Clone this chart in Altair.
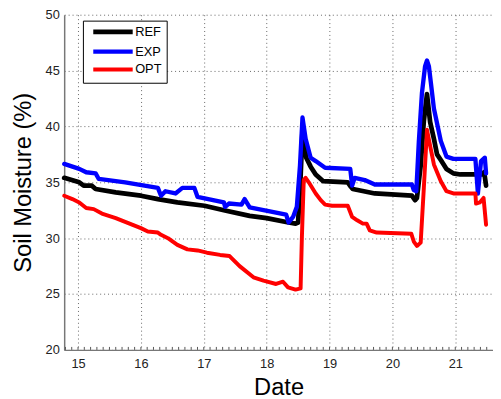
import altair as alt
import pandas as pd

series_names = ["REF", "EXP", "OPT"]
series_colors = ["#000000", "#0000ff", "#ff0000"]
series_widths = [4.8, 4, 4]

ref_x = [14.78, 15.02, 15.09, 15.22, 15.28, 15.60, 16.00, 16.27, 16.58, 17.01, 17.32, 17.73, 18.00,
         18.35, 18.46, 18.50, 18.54, 18.57, 18.60, 18.63, 18.70, 18.78, 18.90, 19.29, 19.34, 19.37,
         19.72, 20.31, 20.36, 20.39, 20.45, 20.50, 20.55, 20.60, 20.66, 20.71, 20.77, 20.86, 20.97,
         21.08, 21.44, 21.46, 21.49]
ref_y = [35.4, 35.0, 34.7, 34.7, 34.4, 34.1, 33.8, 33.5, 33.2, 32.9, 32.5, 32.0, 31.8,
         31.4, 31.3, 31.4, 35.5, 39.6, 38.5, 37.2, 36.4, 35.7, 35.1, 35.0, 34.6, 34.4,
         34.0, 33.8, 33.4, 33.6, 36.5, 40.5, 42.9, 40.4, 38.9, 37.5, 37.0, 36.2, 35.8,
         35.7, 35.7, 35.9, 34.7]

exp_x = [14.78, 15.02, 15.13, 15.28, 15.33, 15.75, 16.27, 16.32, 16.39, 16.55, 16.66, 16.85, 16.90,
         17.32, 17.34, 17.40, 17.60, 17.65, 17.73, 18.31, 18.35, 18.42, 18.48, 18.53, 18.57, 18.62,
         18.70, 18.78, 18.93, 19.33, 19.36, 19.40, 19.56, 19.72, 20.31, 20.34, 20.38, 20.42, 20.47,
         20.52, 20.55, 20.58, 20.61, 20.66, 20.77, 20.86, 20.97, 21.32, 21.36, 21.41, 21.47, 21.49]
exp_y = [36.65, 36.2, 35.9, 35.8, 35.3, 35.0, 34.5, 33.8, 34.2, 34.0, 34.5, 34.5, 33.7,
         33.2, 32.8, 33.1, 33.0, 33.5, 32.75, 32.1, 31.4, 31.9, 32.8, 36.5, 40.8, 38.9,
         37.2, 36.9, 36.3, 36.2, 34.7, 35.4, 35.2, 34.8, 34.8, 34.3, 34.2, 38.6, 43.0,
         45.4, 45.9, 45.4, 44.0, 41.6, 38.7, 37.3, 37.1, 37.1, 34.0, 36.9, 37.2, 35.8]

opt_x = [14.78, 14.91, 15.02, 15.13, 15.25, 15.38, 15.60, 15.80, 16.00, 16.11, 16.27, 16.32, 16.43,
         16.58, 16.74, 16.90, 17.05, 17.26, 17.41, 17.57, 17.79, 17.95, 18.15, 18.26, 18.34, 18.46,
         18.54, 18.56, 18.59, 18.62, 18.67, 18.78, 18.86, 18.93, 19.04, 19.29, 19.36, 19.44, 19.53,
         19.59, 19.64, 19.75, 20.30, 20.34, 20.39, 20.45, 20.50, 20.55, 20.61, 20.66, 20.77, 20.86,
         20.97, 21.32, 21.33, 21.39, 21.45, 21.49]
opt_y = [33.8, 33.5, 33.2, 32.7, 32.6, 32.2, 31.8, 31.35, 30.9, 30.6, 30.5, 30.3, 30.0,
         29.4, 29.0, 28.9, 28.7, 28.5, 28.4, 27.5, 26.5, 26.2, 25.9, 26.1, 25.6, 25.4,
         25.5, 30.0, 35.2, 35.4, 35.0, 34.0, 33.4, 33.0, 32.9, 32.9, 31.9, 31.6, 31.3,
         31.3, 30.7, 30.5, 30.4, 29.7, 29.3, 29.6, 34.5, 39.7, 38.0, 36.6, 35.1, 34.2,
         34.0, 34.0, 33.1, 33.2, 33.6, 31.2]

x_ticks = [15, 16, 17, 18, 19, 20, 21]
y_ticks = [20, 25, 30, 35, 40, 45, 50]
minor_ticks = [round(14.8 + 0.1 * i, 1) for i in range(68)]

rows = []
for name, xs, ys in zip(series_names, [ref_x, exp_x, opt_x], [ref_y, exp_y, opt_y]):
    for i, (xv, yv) in enumerate(zip(xs, ys)):
        rows.append({"series": name, "date": xv, "sm": yv, "idx": i})
df = pd.DataFrame(rows)
minor_df = pd.DataFrame({"t": minor_ticks})

FONT = "Liberation Sans"
xscale = alt.Scale(domain=[14.78, 21.6], nice=False, zero=False)
yscale = alt.Scale(domain=[20, 50], nice=False, zero=False)
xaxis = alt.Axis(values=x_ticks, title="Date", format="d")

minor = alt.Chart(minor_df).mark_rule(color="#555555", strokeWidth=1).encode(
    x=alt.X("t:Q", scale=xscale, axis=xaxis),
    y=alt.value(340),
    y2=alt.value(337),
)

lines = alt.Chart(df).mark_line(strokeJoin="round", strokeCap="round").encode(
    x=alt.X("date:Q", scale=xscale, axis=xaxis),
    y=alt.Y("sm:Q", scale=yscale,
            axis=alt.Axis(values=y_ticks, title="Soil Moisture (%)", format="d")),
    color=alt.Color("series:N", scale=alt.Scale(domain=series_names, range=series_colors),
                    legend=alt.Legend(title=None, orient="none", legendX=19, legendY=6,
                                      symbolType="M-20,0H20", symbolSize=4, symbolStrokeWidth=4,
                                      symbolOffset=19, labelOffset=16,
                                      labelFont=FONT, labelFontSize=13, labelColor="#000000",
                                      strokeColor="#000000", fillColor="#ffffff", padding=5,
                                      rowPadding=0)),
    strokeWidth=alt.StrokeWidth("series:N",
                                scale=alt.Scale(domain=series_names, range=series_widths),
                                legend=None),
    order="idx:Q",
)

chart = alt.layer(minor, lines).properties(
    width=435, height=340,
    padding={"left": 57, "top": 4, "right": 0, "bottom": 47},
    autosize=alt.AutoSizeParams(type="none"),
).configure_view(stroke=None).configure_axis(
    labelFont=FONT, labelFontSize=13, labelColor="#222222",
    titleFont=FONT, titleFontSize=24, titleFontWeight="normal", titleColor="#000000",
    domainColor="#777777", domainWidth=1.5,
    ticks=False, labelPadding=5,
    grid=True, gridColor="#666666", gridDash=[1, 3], gridWidth=1, gridOpacity=1,
).configure_axisX(titlePadding=5, labelPadding=8).configure_axisY(titlePadding=10)

chart.save("out.html", embed_options={"renderer": "svg", "actions": False})
